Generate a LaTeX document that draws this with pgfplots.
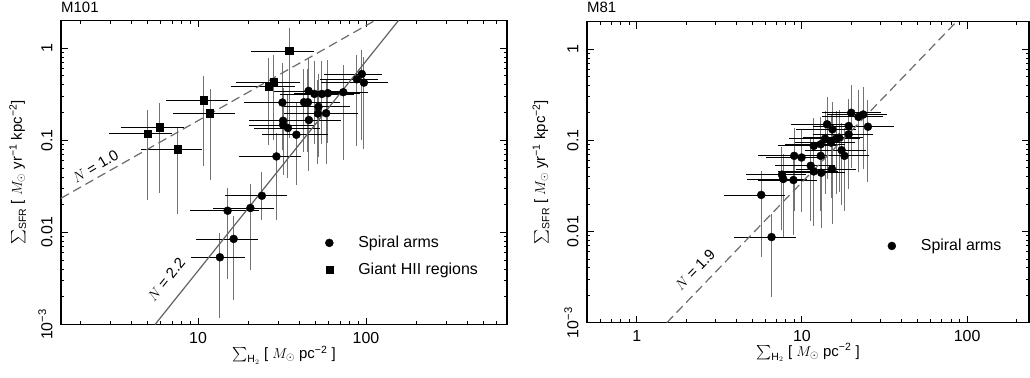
\documentclass[border=0pt]{standalone}
\usepackage{amsmath}
\usepackage{pgfplots}
\pgfplotsset{compat=1.18}
\usepackage{pgfplotstable}
\usepackage{fontspec}
\setmainfont{Liberation Sans}
\setsansfont{Liberation Sans}
\definecolor{vgray}{gray}{0.45}
\definecolor{lgray}{gray}{0.38}
\definecolor{dgray}{gray}{0.42}

\pgfplotstableread{
x y xl xh yl yh
31.8 0.257 18.9 54.1 0.079 0.685
45.5 0.344 28.4 70.5 0.098 0.79
49.3 0.319 30.8 76.4 0.091 0.73
54.6 0.319 34.1 84.6 0.091 0.73
59.3 0.325 37.1 91.9 0.093 0.75
73.2 0.333 52.9 102.6 0.061 0.66
88.2 0.460 52.9 117 0.086 0.84
94.4 0.525 56.5 125 0.10 0.95
97.1 0.423 54 136 0.08 0.80
42.7 0.259 26.7 66.2 0.074 0.60
45.1 0.259 28.2 69.9 0.074 0.60
52.1 0.231 32.6 80.8 0.066 0.53
51.7 0.195 32.3 80.1 0.056 0.45
57.9 0.197 36.2 89.7 0.056 0.45
32.1 0.163 20.1 49.8 0.047 0.37
32.1 0.147 20.1 49.8 0.042 0.34
34.3 0.136 21.4 53.2 0.039 0.31
38.5 0.115 24.1 59.7 0.033 0.26
45.7 0.166 28.6 70.8 0.047 0.38
29.3 0.0668 17.5 41.1 0.0135 0.12
24.0 0.0250 14.4 33.7 0.0138 0.0448
20.5 0.0184 12.2 28.5 0.00395 0.0335
15.0 0.0172 9.0 23.2 0.0031 0.0306
16.3 0.0085 9.76 22.7 0.00184 0.0152
13.5 0.00537 9.1 19.1 0.00119 0.0099
}\tabLC

\pgfplotstableread{
x y xl xh yl yh
5.02 0.1175 2.97 6.98 0.0226 0.214
5.93 0.139 3.49 8.24 0.0268 0.253
7.59 0.080 4.55 10.6 0.0158 0.141
10.8 0.272 6.41 15.0 0.052 0.50
11.8 0.197 7.08 16.6 0.0373 0.361
26.4 0.383 15.8 37.7 0.089 0.78
28.1 0.427 16.9 40.2 0.10 0.85
34.9 0.933 20.7 48.9 0.106 1.67
}\tabLS

\pgfplotstableread{
x y xl xh yl yh
5.67 0.0252 3.38 7.93 0.00526 0.0464
6.55 0.00869 3.89 9.2 0.00193 0.0156
7.57 0.0420 4.59 10.6 0.0105 0.084
7.71 0.0377 4.67 10.8 0.0084 0.071
8.89 0.0367 5.39 12.4 0.0092 0.073
8.98 0.0676 5.44 12.6 0.0169 0.135
9.95 0.0648 6.03 13.9 0.0162 0.13
11.3 0.0526 6.85 15.8 0.0132 0.105
11.8 0.0456 7.15 16.5 0.0114 0.091
11.8 0.0869 7.15 16.5 0.0217 0.174
13.0 0.0676 7.88 18.2 0.0169 0.135
13.1 0.0441 7.94 18.3 0.011 0.088
13.0 0.0906 7.88 18.2 0.0227 0.181
13.8 0.1044 8.36 19.3 0.0261 0.209
14.2 0.150 8.61 19.9 0.0375 0.30
15.0 0.0944 9.09 21.0 0.0236 0.189
15.3 0.132 9.27 21.4 0.033 0.264
16.1 0.1044 9.76 22.5 0.0261 0.209
16.8 0.107 10.2 23.5 0.0268 0.214
15.2 0.0484 9.21 21.3 0.0121 0.097
17.4 0.078 10.5 24.4 0.0195 0.156
18.1 0.0676 11.0 25.3 0.0169 0.135
19.2 0.1165 11.6 26.9 0.0291 0.233
19.2 0.1436 11.6 26.9 0.0359 0.287
19.9 0.2005 13.2 30.0 0.05 0.40
22.0 0.181 13.3 30.8 0.045 0.36
23.5 0.192 14.2 32.9 0.048 0.38
25.1 0.141 17.5 36.0 0.035 0.28
}\tabRC

\newcommand{\bigf}{\fontsize{16}{19}\selectfont}
\newcommand{\labf}{\fontsize{15}{18}\selectfont}
\newcommand{\xlab}{$\sum_{\text{H}_2}$ [ $M_\odot$ pc\textsuperscript{−2} ]}
\newcommand{\ylab}{$\sum_{\text{SFR}}$ [ $M_\odot$ yr\textsuperscript{−1} kpc\textsuperscript{−2}]}

\begin{document}
\begin{tikzpicture}
\useasboundingbox (0,0) rectangle (1030bp,378bp);

\node[anchor=base west, font=\fontsize{15}{17}\selectfont, inner sep=0pt] at (61bp,365.5bp) {M101};
\node[anchor=base west, font=\fontsize{15}{17}\selectfont, inner sep=0pt] at (587bp,365.5bp) {M81};

% ---------- M101 ----------
\begin{axis}[
  xmode=log, ymode=log, scale only axis,
  at={(61bp,53.5bp)}, anchor=south west,
  width=446bp, height=304bp,
  xmin=1.53, xmax=690, ymin=0.001, ymax=2,
  xtick={10,100}, xticklabels={10,100},
  minor xtick={2,3,4,5,6,7,8,9,20,30,40,50,60,70,80,90,200,300,400,500,600},
  ytick={0.001,0.01,0.1,1},
  yticklabels={10\textsuperscript{−3},0.01,0.1,1},
  minor ytick={0.002,0.003,0.004,0.005,0.006,0.007,0.008,0.009,0.02,0.03,0.04,0.05,0.06,0.07,0.08,0.09,0.2,0.3,0.4,0.5,0.6,0.7,0.8,0.9},
  tick align=inside,
  major tick length=7bp, minor tick length=3.5bp,
  axis line style={line width=1.3bp},
  every tick/.append style={line width=0.9bp, black},
  tick label style={font=\bigf},
  yticklabel style={rotate=90, anchor=south},
  xticklabel shift=4bp, yticklabel shift=5bp,
  label style={font=\labf},
  xlabel={\xlab}, ylabel={\ylab},
  x label style={at={(axis description cs:0.5,-0.1)}, anchor=center},
  y label style={at={(axis description cs:-0.097,0.5)}, anchor=center},
  legend cell align=left,
  legend image code/.code={\pgfpathrectangle{\pgfpoint{0bp}{-4bp}}{\pgfpoint{32bp}{8bp}}\pgfusepath{}\draw[#1] plot coordinates {(5bp,0bp)};},
  legend style={draw=none, fill=none, font=\bigf, row sep=10bp, inner sep=0pt,
    at={(rel axis cs:0.59,0.224)}, anchor=west},
]
\addplot[only marks, mark=none, forget plot,
    error bars/y dir=both, error bars/y explicit, error bars/error mark=none,
    error bars/error bar style={vgray, line width=0.9bp}]
  table[x=x, y=y, y error plus expr=\thisrow{yh}-\thisrow{y}, y error minus expr=\thisrow{y}-\thisrow{yl}] {\tabLS};
\addplot[only marks, mark=none, forget plot,
    error bars/y dir=both, error bars/y explicit, error bars/error mark=none,
    error bars/error bar style={vgray, line width=0.9bp}]
  table[x=x, y=y, y error plus expr=\thisrow{yh}-\thisrow{y}, y error minus expr=\thisrow{y}-\thisrow{yl}] {\tabLC};
\addplot[only marks, mark=none, forget plot,
    error bars/x dir=both, error bars/x explicit, error bars/error mark=none,
    error bars/error bar style={black, line width=0.8bp}]
  table[x=x, y=y, x error plus expr=\thisrow{xh}-\thisrow{x}, x error minus expr=\thisrow{x}-\thisrow{xl}] {\tabLS};
\addplot[only marks, mark=none, forget plot,
    error bars/x dir=both, error bars/x explicit, error bars/error mark=none,
    error bars/error bar style={black, line width=0.8bp}]
  table[x=x, y=y, x error plus expr=\thisrow{xh}-\thisrow{x}, x error minus expr=\thisrow{x}-\thisrow{xl}] {\tabLC};
\addplot[forget plot, dgray, line width=1.2bp, dash pattern=on 9bp off 5bp] coordinates {(1.53,0.0235) (113,2)};
\addplot[forget plot, lgray, line width=1.2bp] coordinates {(5.55,0.001) (156,2)};
\addplot[only marks, mark=*, mark size=4bp, black] table[x=x, y=y] {\tabLC};
\addlegendentry{Spiral arms}
\addplot[only marks, mark=square*, mark size=3.6bp, black] table[x=x, y=y] {\tabLS};
\addlegendentry{Giant HII regions}
\node[rotate=31, font=\labf] at (axis cs:2.45,0.052) {$N$ = 1.0};
\node[rotate=51, font=\labf] at (axis cs:6.46,0.00308) {$N$ = 2.2};
\end{axis}

% ---------- M81 ----------
\begin{axis}[
  xmode=log, ymode=log, scale only axis,
  at={(587bp,55.3bp)}, anchor=south west,
  width=442bp, height=301bp,
  xmin=0.5, xmax=237, ymin=0.001, ymax=2,
  xtick={1,10,100}, xticklabels={1,10,100},
  minor xtick={0.6,0.7,0.8,0.9,2,3,4,5,6,7,8,9,20,30,40,50,60,70,80,90,200},
  ytick={0.001,0.01,0.1,1},
  yticklabels={10\textsuperscript{−3},0.01,0.1,1},
  minor ytick={0.002,0.003,0.004,0.005,0.006,0.007,0.008,0.009,0.02,0.03,0.04,0.05,0.06,0.07,0.08,0.09,0.2,0.3,0.4,0.5,0.6,0.7,0.8,0.9},
  tick align=inside,
  major tick length=7bp, minor tick length=3.5bp,
  axis line style={line width=1.3bp},
  every tick/.append style={line width=0.9bp, black},
  tick label style={font=\bigf},
  yticklabel style={rotate=90, anchor=south},
  xticklabel shift=4bp, yticklabel shift=5bp,
  label style={font=\labf},
  xlabel={\xlab}, ylabel={\ylab},
  x label style={at={(axis description cs:0.5,-0.1)}, anchor=center},
  y label style={at={(axis description cs:-0.104,0.5)}, anchor=center},
  legend cell align=left,
  legend image code/.code={\pgfpathrectangle{\pgfpoint{0bp}{-4bp}}{\pgfpoint{32bp}{8bp}}\pgfusepath{}\draw[#1] plot coordinates {(5bp,0bp)};},
  legend style={draw=none, fill=none, font=\bigf, inner sep=0pt,
    at={(rel axis cs:0.678,0.255)}, anchor=west},
]
\addplot[only marks, mark=none, forget plot,
    error bars/y dir=both, error bars/y explicit, error bars/error mark=none,
    error bars/error bar style={vgray, line width=0.9bp}]
  table[x=x, y=y, y error plus expr=\thisrow{yh}-\thisrow{y}, y error minus expr=\thisrow{y}-\thisrow{yl}] {\tabRC};
\addplot[only marks, mark=none, forget plot,
    error bars/x dir=both, error bars/x explicit, error bars/error mark=none,
    error bars/error bar style={black, line width=0.8bp}]
  table[x=x, y=y, x error plus expr=\thisrow{xh}-\thisrow{x}, x error minus expr=\thisrow{x}-\thisrow{xl}] {\tabRC};
\addplot[forget plot, dgray, line width=1.2bp, dash pattern=on 9bp off 5bp] coordinates {(1.52,0.001) (86.2,2)};
\addplot[only marks, mark=*, mark size=4bp, black] table[x=x, y=y] {\tabRC};
\addlegendentry{Spiral arms}
\node[rotate=46, font=\labf] at (axis cs:2.25,0.00377) {$N$ = 1.9};
\end{axis}
\end{tikzpicture}
\end{document}
